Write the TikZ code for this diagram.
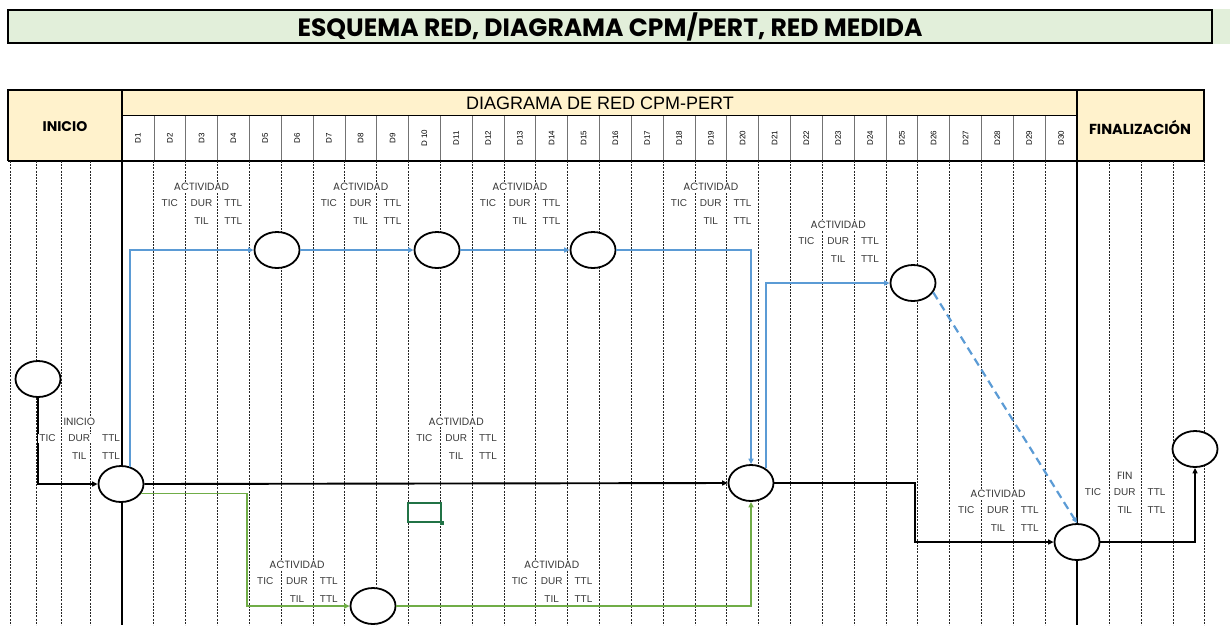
\documentclass[tikz,border=0pt]{standalone}
\usepackage{fontspec}
\setmainfont{Liberation Sans}
\newfontfamily\gothic{Poppins}
\usetikzlibrary{arrows.meta,positioning,calc,shapes.geometric}
\definecolor{Ink}{HTML}{000000}
\definecolor{Label}{HTML}{3A3A3A}
\definecolor{TitleFill}{HTML}{E2EFDA}
\definecolor{HeadFill}{HTML}{FFF2CC}
\definecolor{Blue}{HTML}{5B9BD5}
\definecolor{Green}{HTML}{70AD47}
\definecolor{SelGreen}{HTML}{217346}
\tikzset{
  evt/.style={ellipse,draw=Ink,line width=1.8pt,fill=white,minimum width=45pt,minimum height=36pt,inner sep=0pt},
  lbl/.style={font=\fontsize{10}{11}\selectfont,text=Label,fill=white,inner sep=1pt},
  lblhead/.style={lbl,font=\gothic\fontsize{10.5}{11}\selectfont},
  grid/.style={draw=black!85,line width=.7pt,dash pattern=on 2pt off 1.2pt},
  border/.style={draw=Ink,line width=1.8pt},
  arrow/.style={-{Triangle[length=5.5pt,width=5pt]},line width=1.9pt,draw=Ink},
  blueArrow/.style={arrow,draw=Blue},
  greenArrow/.style={arrow,draw=Green},
  dayLabel/.style={rotate=90,font=\fontsize{8}{9}\selectfont}
}
% activity label: name, x of TIC column, y of head, head text
\newcommand{\actblock}[4]{%
  \node[lblhead] (#1h) at (#2+31.8,#3) {#4};
  \node[lbl] (#1tic) at (#2,#3+16.5) {TIC};
  \node[lbl] (#1dur) at (#2+31.8,#3+16.5) {DUR};
  \node[lbl] (#1ttl) at (#2+63.6,#3+16.5) {TTL};
  \node[lbl] (#1til) at (#2+31.8,#3+34) {TIL};
  \node[lbl] (#1ttlb) at (#2+63.6,#3+34) {TTL};
}

\begin{document}
\begin{tikzpicture}[x=1pt,y=-1pt]
\useasboundingbox (0,0) rectangle (1230,625);
% title bar
\fill[TitleFill] (1213,9) rectangle (1230,44);
\draw[border,fill=TitleFill] (8,10) rectangle (1212,43);
\node[font=\gothic\bfseries\fontsize{25}{26}\selectfont] (title) at (610,27) {ESQUEMA RED, DIAGRAMA CPM/PERT, RED MEDIDA};
% header
\fill[HeadFill] (8,90) rectangle (122,161);
\fill[HeadFill] (122,90) rectangle (1077,115);
\fill[HeadFill] (1077,90) rectangle (1204,161);
\foreach \i in {1,...,29}
  \draw[black!55,line width=.6pt] ({122+\i*31.83},115) -- ({122+\i*31.83},161);
\draw[line width=1pt] (122,115) -- (1077,115);
\draw[border] (8,161) -- (8,90) -- (1204,90) -- (1204,161);
\draw[border] (8,161) -- (1204,161);
\node[font=\gothic\bfseries\fontsize{14}{15}\selectfont] (inicioH) at (65,127) {INICIO};
\node[font=\fontsize{18}{19}\selectfont] (redH) at (600,103) {DIAGRAMA DE RED CPM-PERT};
\node[font=\gothic\bfseries\fontsize{14.5}{15}\selectfont] (finH) at (1140,127) {FINALIZACIÓN};
\foreach \i in {1,...,30}{
  \ifnum\i=10 \def\daytxt{D 10}\else\def\daytxt{D\i}\fi
  \node[dayLabel] (d\i) at ({122+(\i-0.5)*31.83},138) {\daytxt};
}
% grid
\foreach \i in {1,...,29}
  \draw[grid] ({122+\i*31.83},161) -- ({122+\i*31.83},625);
\foreach \x in {10,36,61,90,1109,1141,1173,1204}
  \draw[grid] (\x,161) -- (\x,625);
\draw[border] (122,90) -- (122,625);
\draw[border] (1077,90) -- (1077,625);
% events
\node[evt] (start) at (38,379) {};
\node[evt] (A) at (121,484) {};
\node[evt] (n1) at (277,250) {};
\node[evt] (n2) at (437,250) {};
\node[evt] (n3) at (593,250) {};
\node[evt] (mid) at (751,483) {};
\node[evt] (r) at (913,283) {};
\node[evt] (bot) at (373,606) {};
\node[evt] (fin) at (1077,542) {};
\node[evt] (end) at (1195,449) {};
\node[draw=SelGreen,line width=1.4pt,minimum width=33pt,minimum height=19pt,inner sep=0pt] (sel) at (424.5,512.5) {};
\fill[SelGreen] (sel.south east) ++(-2.2,-2.2) rectangle ++(4.4,4.4);
\coordinate (gx) at (247,0);
\coordinate (bx) at (915,0);
% connectors
\draw[arrow] (start.south) |- (A.west);
\draw[arrow] (A.east) -- (mid.west);
\draw[blueArrow] (A.62) |- (n1.west);
\draw[blueArrow] (n1.east) -- (n2.west);
\draw[blueArrow] (n2.east) -- (n3.west);
\draw[blueArrow] (n3.east) -| (mid.north);
\draw[blueArrow] (mid.45) |- (r.west);
\draw[blueArrow,line width=2.2pt,dash pattern=on 8pt off 5pt] (r.-25) -- (fin.north);
\draw[greenArrow] (A.-25) -- (A.-25 -| gx) |- (bot.west);
\draw[greenArrow] (bot.east) -| (mid.south);
\draw[arrow] (mid.east) -- (mid.east -| bx) |- (fin.west);
\draw[arrow] (fin.east) -| (end.south);
% labels
\actblock{a}{169.7}{187}{ACTIVIDAD}
\actblock{b}{328.9}{187}{ACTIVIDAD}
\actblock{c}{488}{187}{ACTIVIDAD}
\actblock{e}{679}{187}{ACTIVIDAD}
\actblock{f}{806.4}{225}{ACTIVIDAD}
\actblock{ini}{47.5}{422}{INICIO}
\actblock{g}{424.4}{422}{ACTIVIDAD}
\actblock{h}{265.2}{565}{ACTIVIDAD}
\actblock{k}{519.9}{565}{ACTIVIDAD}
\actblock{m}{966.2}{494}{ACTIVIDAD}
\actblock{fn}{1093}{476}{FIN}
\end{tikzpicture}
\end{document}
